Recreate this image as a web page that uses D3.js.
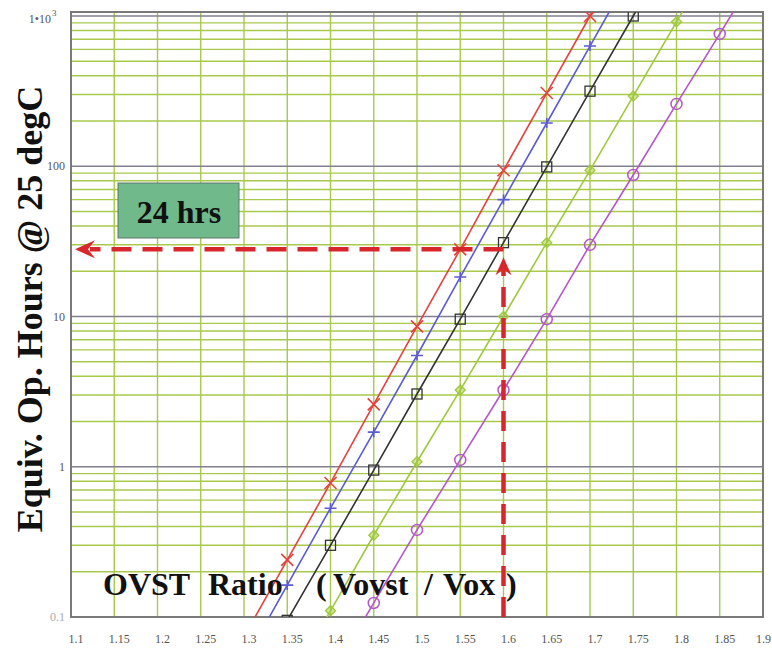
<!DOCTYPE html>
<html>
<head>
<meta charset="utf-8">
<script src="https://cdn.jsdelivr.net/npm/d3@7"></script>
<style>
  body { margin: 0; background: #fff; }
  svg { display: block; font-family: "Liberation Serif", "DejaVu Serif", serif; }
</style>
</head>
<body>
<div id="chart"></div>
<script>
// tick labels
var xTicks = [1.1, 1.15, 1.2, 1.25, 1.3, 1.35, 1.4, 1.45, 1.5, 1.55, 1.6, 1.65, 1.7, 1.75, 1.8, 1.85, 1.9];
var xTickLabels = ["1.1", "1.15", "1.2", "1.25", "1.3", "1.35", "1.4", "1.45", "1.5", "1.55", "1.6", "1.65", "1.7", "1.75", "1.8", "1.85", "1.9"];
var yDecades = [0.1, 1, 10, 100, 1000];
var yTickLabels = ["0.1", "1", "10", "100", "1\u202210"];

// series (ratio -> equiv. hours)
var redRatio = [1.3, 1.35, 1.4, 1.45, 1.5, 1.55, 1.6, 1.65, 1.7, 1.75];
var redHours = [0.074, 0.24, 0.78, 2.6, 8.6, 28, 94, 307, 1000, 3250];
var blueRatio = [1.3, 1.35, 1.4, 1.45, 1.5, 1.55, 1.6, 1.65, 1.7, 1.75];
var blueHours = [0.05, 0.163, 0.53, 1.7, 5.5, 18.3, 60, 194, 631, 2050];
var blackRatio = [1.3, 1.35, 1.4, 1.45, 1.5, 1.55, 1.6, 1.65, 1.7, 1.75, 1.8];
var blackHours = [0.03, 0.095, 0.3, 0.95, 3.05, 9.6, 31, 99, 316, 1000, 3200];
var greenRatio = [1.35, 1.4, 1.45, 1.5, 1.55, 1.6, 1.65, 1.7, 1.75, 1.8, 1.85];
var greenHours = [0.035, 0.11, 0.35, 1.08, 3.24, 10, 31, 94, 293, 915, 2850];
var purpleRatio = [1.4, 1.45, 1.5, 1.55, 1.6, 1.65, 1.7, 1.75, 1.8, 1.85, 1.9];
var purpleHours = [0.04, 0.124, 0.38, 1.11, 3.24, 9.6, 30, 87.5, 260, 760, 2250];

// the 24 hrs read-off
var markRatio = 1.6;
var markHours = 28;

var width = 772, height = 649;
var margin = {left: 71, right: 9, top: 12, bottom: 32};

var svg = d3.select('#chart')
  .append('svg')
  .attr('width', width)
  .attr('height', height);

var x = d3.scaleLinear()
  .domain([1.1, 1.9])
  .range([margin.left, width - margin.right]);
var y = d3.scaleLog()
  .domain([0.1, 1000])
  .range([height - margin.bottom, 16]);

var plotTop = margin.top, plotBottom = height - margin.bottom;

svg.append('defs').append('clipPath')
  .attr('id', 'plotclip')
  .append('rect')
  .attr('x', margin.left)
  .attr('y', plotTop)
  .attr('width', x(1.9) - x(1.1))
  .attr('height', plotBottom - plotTop);

// minor horizontal grid
var minor = [];
yDecades.slice(0, 4).forEach(function (d) {
  for (var k = 2; k <= 9; k++) minor.push(d * k);
});

var grid = svg.append('g').attr('class', 'grid');
grid.selectAll(null)
  .data(minor)
  .enter().append('line')
  .attr('x1', x(1.1)).attr('x2', x(1.9))
  .attr('y1', function (d) { return y(d); })
  .attr('y2', function (d) { return y(d); })
  .attr('stroke', '#a8c94c')
  .attr('stroke-width', 1.4);

grid.selectAll(null)
  .data(xTicks.slice(1, -1))
  .enter().append('line')
  .attr('x1', function (d) { return x(d); })
  .attr('x2', function (d) { return x(d); })
  .attr('y1', plotTop).attr('y2', plotBottom)
  .attr('stroke', '#a8c94c')
  .attr('stroke-width', 1.4);

grid.selectAll(null)
  .data(yDecades.slice(1))
  .enter().append('line')
  .attr('x1', x(1.1)).attr('x2', x(1.9))
  .attr('y1', function (d) { return y(d); })
  .attr('y2', function (d) { return y(d); })
  .attr('stroke', '#80808f')
  .attr('stroke-width', 1.6);

// frame
svg.append('rect')
  .attr('x', x(1.1))
  .attr('y', plotTop)
  .attr('width', x(1.9) - x(1.1))
  .attr('height', plotBottom - plotTop)
  .attr('fill', 'none')
  .attr('stroke', '#7a7a7a')
  .attr('stroke-width', 2);

// x tick labels
svg.append('g').selectAll('text')
  .data(xTicks)
  .enter().append('text')
  .attr('x', function (d, i) { return i === xTicks.length - 1 ? 771 : x(d) + 5; })
  .attr('y', 643)
  .attr('text-anchor', function (d, i) { return i === xTicks.length - 1 ? 'end' : 'middle'; })
  .style('font-size', '12px')
  .style('fill', '#555')
  .text(function (d, i) { return xTickLabels[i]; });

// y tick labels
svg.append('g').selectAll('text')
  .data(yDecades)
  .enter().append('text')
  .attr('x', function (d) { return d === 1000 ? 51 : 65; })
  .attr('y', function (d) { return d === 1000 ? 23 : y(d) + 4; })
  .attr('text-anchor', 'end')
  .style('font-size', '12px')
  .style('fill', function (d) { return d === 0.1 ? '#aaa' : '#555'; })
  .text(function (d, i) { return yTickLabels[i]; });
svg.append('text')
  .attr('x', 52)
  .attr('y', 16)
  .style('font-size', '9px')
  .style('fill', '#555')
  .text('3');

// series
var series = [
  {ratio: redRatio, hours: redHours, color: '#e5413f', marker: 'x'},
  {ratio: blueRatio, hours: blueHours, color: '#5b5bd3', marker: 'plus'},
  {ratio: blackRatio, hours: blackHours, color: '#333333', marker: 'square'},
  {ratio: greenRatio, hours: greenHours, color: '#9fc93c', marker: 'diamond'},
  {ratio: purpleRatio, hours: purpleHours, color: '#b556c9', marker: 'circle'}
];

var line = d3.line()
  .x(function (d) { return x(d[0]); })
  .y(function (d) { return y(d[1]); });

var plot = svg.append('g').attr('clip-path', 'url(#plotclip)');

series.forEach(function (s) {
  var pts = s.ratio.map(function (r, i) { return [r, s.hours[i]]; });
  plot.append('path')
    .datum(pts)
    .attr('d', line)
    .attr('fill', 'none')
    .attr('stroke', s.color)
    .attr('stroke-width', 1.6);

  var m = plot.selectAll(null)
    .data(pts)
    .enter().append('g')
    .attr('transform', function (d) { return 'translate(' + x(d[0]) + ',' + y(d[1]) + ')'; });

  if (s.marker === 'x') {
    m.append('path').attr('d', 'M-6,-6L6,6M-6,6L6,-6')
      .attr('stroke', s.color).attr('stroke-width', 1.6);
  } else if (s.marker === 'plus') {
    m.append('path').attr('d', 'M-6,0L6,0M0,-5L0,5')
      .attr('stroke', s.color).attr('stroke-width', 1.6);
  } else if (s.marker === 'square') {
    m.append('rect').attr('x', -5).attr('y', -5).attr('width', 10).attr('height', 10)
      .attr('fill', 'none').attr('stroke', s.color).attr('stroke-width', 1.3);
  } else if (s.marker === 'diamond') {
    m.append('path').attr('d', 'M0,-5L5,0L0,5L-5,0Z')
      .attr('fill', s.color).attr('fill-opacity', 0.5)
      .attr('stroke', s.color).attr('stroke-width', 1.3);
  } else {
    m.append('circle').attr('r', 5.5)
      .attr('fill', 'none').attr('stroke', s.color).attr('stroke-width', 1.5);
  }
});

// 24 hrs box
svg.append('rect')
  .attr('x', 118).attr('y', 183)
  .attr('width', 121).attr('height', 55)
  .attr('fill', '#70b98b')
  .attr('stroke', '#5f7768')
  .attr('stroke-width', 1);
svg.append('text')
  .attr('x', 179).attr('y', 223)
  .attr('text-anchor', 'middle')
  .style('font-size', '32px')
  .style('font-weight', 'bold')
  .style('fill', '#111')
  .text('24 hrs');

// red dashed read-off lines
var red = '#d8262d';
var hy = y(markHours), vx = x(markRatio);
svg.append('line')
  .attr('x1', vx).attr('x2', 90)
  .attr('y1', hy).attr('y2', hy)
  .attr('stroke', red).attr('stroke-width', 4.5)
  .attr('stroke-dasharray', '20,11');
svg.append('path')
  .attr('d', 'M' + (x(1.1) + 4) + ',' + hy + 'l20,-9l-7,9l7,9z')
  .attr('fill', red);
svg.append('line')
  .attr('x1', vx).attr('x2', vx)
  .attr('y1', plotBottom).attr('y2', hy + 20)
  .attr('stroke', red).attr('stroke-width', 4.5)
  .attr('stroke-dasharray', '20,11');
svg.append('path')
  .attr('d', 'M' + vx + ',' + (hy + 8) + 'l-8,18l8,-6l8,6z')
  .attr('fill', red);

// axis titles
var xt = svg.append('text')
  .attr('y', 595)
  .style('font-size', '32px')
  .style('font-weight', 'bold')
  .style('fill', '#111');
xt.append('tspan').attr('x', 103).text('OVST');
xt.append('tspan').attr('x', 208).text('Ratio');
xt.append('tspan').attr('x', 316).text('(');
xt.append('tspan').attr('x', 333).text('Vovst');
xt.append('tspan').attr('x', 424).text('/');
xt.append('tspan').attr('x', 443).text('Vox');
xt.append('tspan').attr('x', 506).text(')');

svg.append('text')
  .attr('transform', 'translate(42,' + 309 + ') rotate(-90)')
  .attr('text-anchor', 'middle')
  .style('font-size', '36px')
  .style('font-weight', 'bold')
  .style('fill', '#111')
  .text('Equiv. Op. Hours @ 25 degC');
</script>
</body>
</html>
